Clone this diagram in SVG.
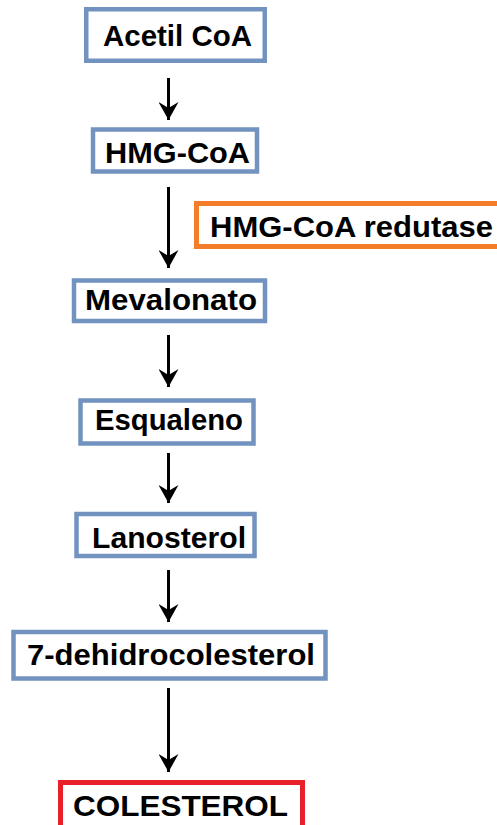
<svg xmlns="http://www.w3.org/2000/svg" width="497" height="825" viewBox="0 0 497 825">
<style>
.box{fill:#fff;stroke:#7293c0;stroke-width:4.5}
.enz{fill:#fff;stroke:#f47d2a;stroke-width:5}
.fin{fill:#fff;stroke:#e8202a;stroke-width:5}
text{font-family:"Liberation Sans",Arial,sans-serif;font-weight:bold;font-size:30px;fill:#000}
.arr{stroke:#000;stroke-width:3;fill:none;marker-end:url(#ah)}
</style>
<defs>
<marker id="ah" markerUnits="userSpaceOnUse" markerWidth="20" markerHeight="20" viewBox="0 0 20 20" refX="18" refY="10" orient="auto">
<path d="M0,0 L18,10 L0,20 L6,10 Z" fill="#000"/>
</marker>
</defs>
<rect width="497" height="825" fill="#fff"/>
<g id="connectors">
<line class="arr" x1="168.5" y1="78" x2="168.5" y2="120"/>
<line class="arr" x1="168.5" y1="187" x2="168.5" y2="268"/>
<line class="arr" x1="168.5" y1="335" x2="168.5" y2="387"/>
<line class="arr" x1="168.5" y1="453" x2="168.5" y2="503"/>
<line class="arr" x1="168.5" y1="570" x2="168.5" y2="622"/>
<line class="arr" x1="168.5" y1="688" x2="168.5" y2="772"/>
</g>
<g id="acetil">
<rect class="box" x="86.25" y="9.25" width="178.5" height="51.5"/>
<text x="103" y="46" textLength="149" lengthAdjust="spacingAndGlyphs">Acetil CoA</text>
</g>
<g id="hmgcoa">
<rect class="box" x="93" y="129.5" width="164" height="42"/>
<text x="105" y="163" textLength="145" lengthAdjust="spacingAndGlyphs">HMG-CoA</text>
</g>
<g id="redutase">
<rect class="enz" x="196.5" y="203.5" width="310" height="43"/>
<text x="210" y="237" textLength="283" lengthAdjust="spacingAndGlyphs">HMG-CoA redutase</text>
</g>
<g id="mevalonato">
<rect class="box" x="74" y="280.5" width="191" height="40.5"/>
<text x="85" y="310" textLength="172" lengthAdjust="spacingAndGlyphs">Mevalonato</text>
</g>
<g id="esqualeno">
<rect class="box" x="80.5" y="400.5" width="173" height="43"/>
<text x="95" y="430" textLength="148" lengthAdjust="spacingAndGlyphs">Esqualeno</text>
</g>
<g id="lanosterol">
<rect class="box" x="76.5" y="514" width="178" height="42"/>
<text x="92" y="548" textLength="154" lengthAdjust="spacingAndGlyphs">Lanosterol</text>
</g>
<g id="dehidro">
<rect class="box" x="13.5" y="632" width="312" height="46.5"/>
<text x="27" y="665" textLength="288" lengthAdjust="spacingAndGlyphs">7-dehidrocolesterol</text>
</g>
<g id="colesterol">
<rect class="fin" x="60.5" y="782.5" width="242" height="60"/>
<text x="73" y="816" textLength="215" lengthAdjust="spacingAndGlyphs">COLESTEROL</text>
</g>
</svg>
